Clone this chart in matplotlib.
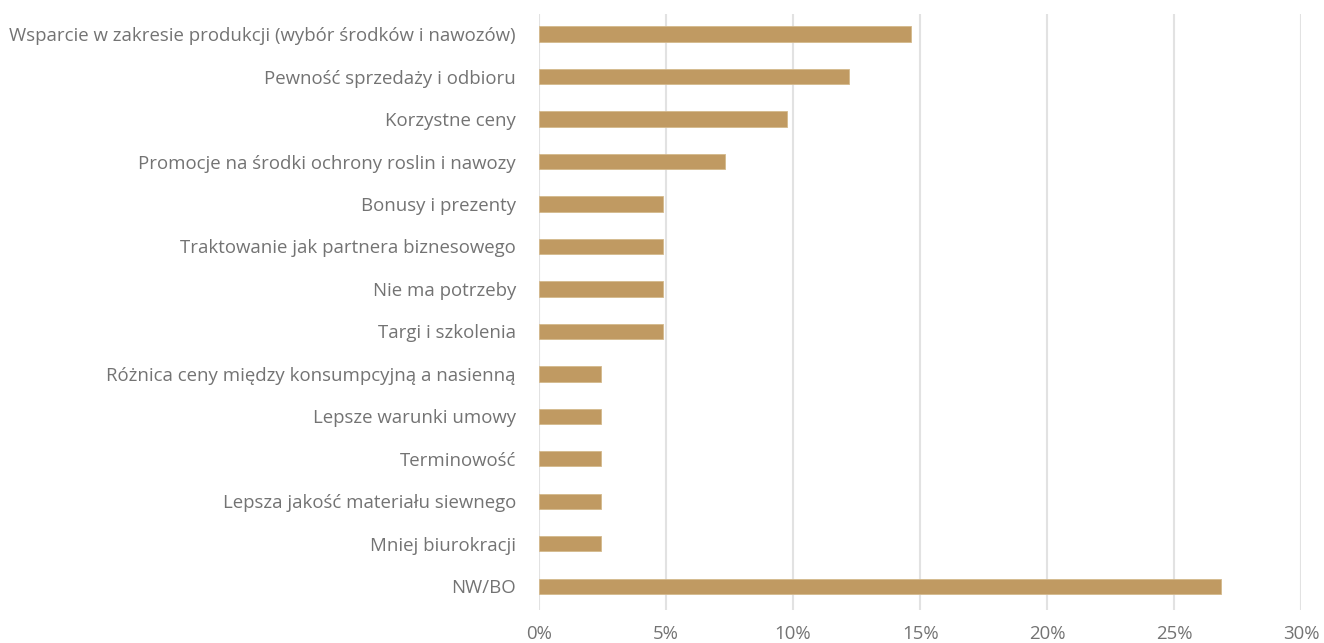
import matplotlib
matplotlib.use("Agg")
from matplotlib import pyplot as plt
from matplotlib.ticker import FuncFormatter

# -- Data: share of answers (%) --
categories = [
    "Wsparcie w zakresie produkcji (wybór środków i nawozów)",
    "Pewność sprzedaży i odbioru",
    "Korzystne ceny",
    "Promocje na środki ochrony roslin i nawozy",
    "Bonusy i prezenty",
    "Traktowanie jak partnera biznesowego",
    "Nie ma potrzeby",
    "Targi i szkolenia",
    "Różnica ceny między konsumpcyjną a nasienną",
    "Lepsze warunki umowy",
    "Terminowość",
    "Lepsza jakość materiału siewnego",
    "Mniej biurokracji",
    "NW/BO",
]
values = [14.63, 12.20, 9.76, 7.32, 4.88, 4.88, 4.88, 4.88,
          2.44, 2.44, 2.44, 2.44, 2.44, 26.83]
x_ticks = [0, 5, 10, 15, 20, 25, 30]

BAR_COLOR = "#C09A62"
TEXT_COLOR = "#737373"

plt.rcParams["font.family"] = ["Open Sans", "DejaVu Sans"]

fig = plt.figure(figsize=(13.24, 6.43), dpi=100)
ax = fig.add_axes([0.407, 0.051, 0.576, 0.927])

pos = list(range(len(categories)))
ax.barh(pos, values, height=0.36, color=BAR_COLOR,
        edgecolor="#D4B98C", linewidth=0.6, zorder=3)

ax.set_xlim(0, 30)
ax.set_ylim(len(categories) - 1 + 0.565, -0.47)
ax.set_xticks(x_ticks)
ax.xaxis.set_major_formatter(FuncFormatter(lambda v, _: f"{v:.0f}%"))
ax.set_yticks(pos)
ax.set_yticklabels(categories)

ax.grid(axis="x", color="#E2E2E2", linewidth=1.5, zorder=0)
for s in ax.spines.values():
    s.set_visible(False)
ax.tick_params(axis="both", length=0, labelsize=13.4, colors=TEXT_COLOR)
ax.tick_params(axis="x", pad=11)
ax.tick_params(axis="y", pad=16.5)

fig.savefig("out.png", dpi=100, facecolor="white")
